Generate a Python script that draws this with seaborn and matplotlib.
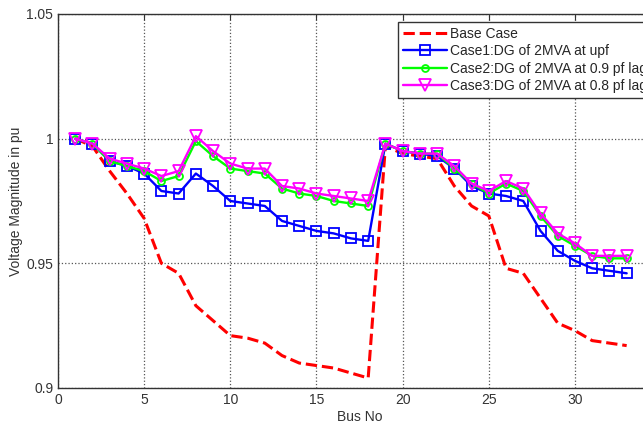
import matplotlib
matplotlib.use('Agg')
import matplotlib.pyplot as plt
import numpy as np
import pandas as pd
import seaborn as sns

# --- Data ---
bus = list(range(1, 34))

base_case = [1.000, 0.997, 0.987, 0.978, 0.968, 0.950, 0.946, 0.933, 0.927, 0.921,
             0.920, 0.918, 0.913, 0.910, 0.909, 0.908, 0.906, 0.904, 0.997, 0.994,
             0.993, 0.992, 0.981, 0.973, 0.969, 0.948, 0.946, 0.936, 0.926, 0.923,
             0.919, 0.918, 0.917]

case1 = [1.000, 0.998, 0.991, 0.989, 0.986, 0.979, 0.978, 0.986, 0.981, 0.975,
         0.974, 0.973, 0.967, 0.965, 0.963, 0.962, 0.960, 0.959, 0.998, 0.995,
         0.994, 0.993, 0.988, 0.981, 0.978, 0.977, 0.975, 0.963, 0.955, 0.951,
         0.948, 0.947, 0.946]

case2 = [1.000, 0.998, 0.991, 0.989, 0.987, 0.983, 0.985, 0.999, 0.993, 0.988,
         0.987, 0.986, 0.980, 0.978, 0.977, 0.975, 0.974, 0.973, 0.998, 0.995,
         0.994, 0.994, 0.988, 0.982, 0.978, 0.982, 0.979, 0.969, 0.961, 0.957,
         0.953, 0.952, 0.952]

case3 = [1.000, 0.998, 0.992, 0.990, 0.988, 0.985, 0.987, 1.001, 0.995, 0.990,
         0.988, 0.988, 0.981, 0.980, 0.978, 0.977, 0.976, 0.975, 0.998, 0.995,
         0.994, 0.994, 0.989, 0.982, 0.979, 0.983, 0.980, 0.970, 0.962, 0.958,
         0.953, 0.953, 0.953]

labels = ['Base Case',
          'Case1:DG of 2MVA at upf',
          'Case2:DG of 2MVA at 0.9 pf lag',
          'Case3:DG of 2MVA at 0.8 pf lag']

x_ticks = [0, 5, 10, 15, 20, 25, 30]
y_ticks = [0.9, 0.95, 1.0, 1.05]
y_tick_labels = ['0.9', '0.95', '1', '1.05']

df = pd.DataFrame({'bus': bus, 'base': base_case, 'c1': case1, 'c2': case2, 'c3': case3})

# --- Style ---
sns.set_style('white')
plt.rcParams['font.family'] = ['Liberation Sans', 'DejaVu Sans']
plt.rcParams['xtick.direction'] = 'in'
plt.rcParams['ytick.direction'] = 'in'

fig = plt.figure(figsize=(6.43, 4.29), dpi=100)
# axes run past the right edge of the figure, like the cropped reference
ax = fig.add_axes([0.0902, 0.0956, 0.938, 0.8718])

sns.lineplot(data=df, x='bus', y='base', ax=ax, color='#ff0000', linestyle='--',
             linewidth=2.2, label=labels[0])
sns.lineplot(data=df, x='bus', y='c1', ax=ax, color='#0000ff', linewidth=1.7,
             marker='s', markersize=7, markerfacecolor='none', markeredgecolor='#0000ff',
             markeredgewidth=1.3, label=labels[1])
sns.lineplot(data=df, x='bus', y='c2', ax=ax, color='#00ff00', linewidth=1.7,
             marker='o', markersize=5, markerfacecolor='none', markeredgecolor='#00ff00',
             markeredgewidth=1.3, label=labels[2])
sns.lineplot(data=df, x='bus', y='c3', ax=ax, color='#ff00ff', linewidth=1.7,
             marker='v', markersize=8, markerfacecolor='none', markeredgecolor='#ff00ff',
             markeredgewidth=1.3, label=labels[3])

ax.set_xlim(0, 35)
ax.set_ylim(0.9, 1.05)
ax.set_xticks(x_ticks)
ax.set_yticks(y_ticks)
ax.set_yticklabels(y_tick_labels)
ax.tick_params(labelsize=10, colors='#333333', length=4, top=True, right=True)
ax.grid(True, linestyle=':', color='#555555', linewidth=0.9)
for s in ax.spines.values():
    s.set_color('#333333')
    s.set_linewidth(1.0)

ax.set_xlabel('Bus No', fontsize=10, color='#333333', labelpad=2)
ax.set_ylabel('Voltage Magnitude in pu', fontsize=10, color='#333333', labelpad=2)

leg = ax.legend(loc='upper left', bbox_to_anchor=(0.564, 0.979), borderaxespad=0,
                fontsize=10, frameon=True, fancybox=False, framealpha=1,
                edgecolor='#333333', handlelength=3.2, borderpad=0.35,
                labelspacing=0.25, handletextpad=0.2)
leg.get_frame().set_linewidth(1.0)

fig.savefig('out.png', dpi=100)
